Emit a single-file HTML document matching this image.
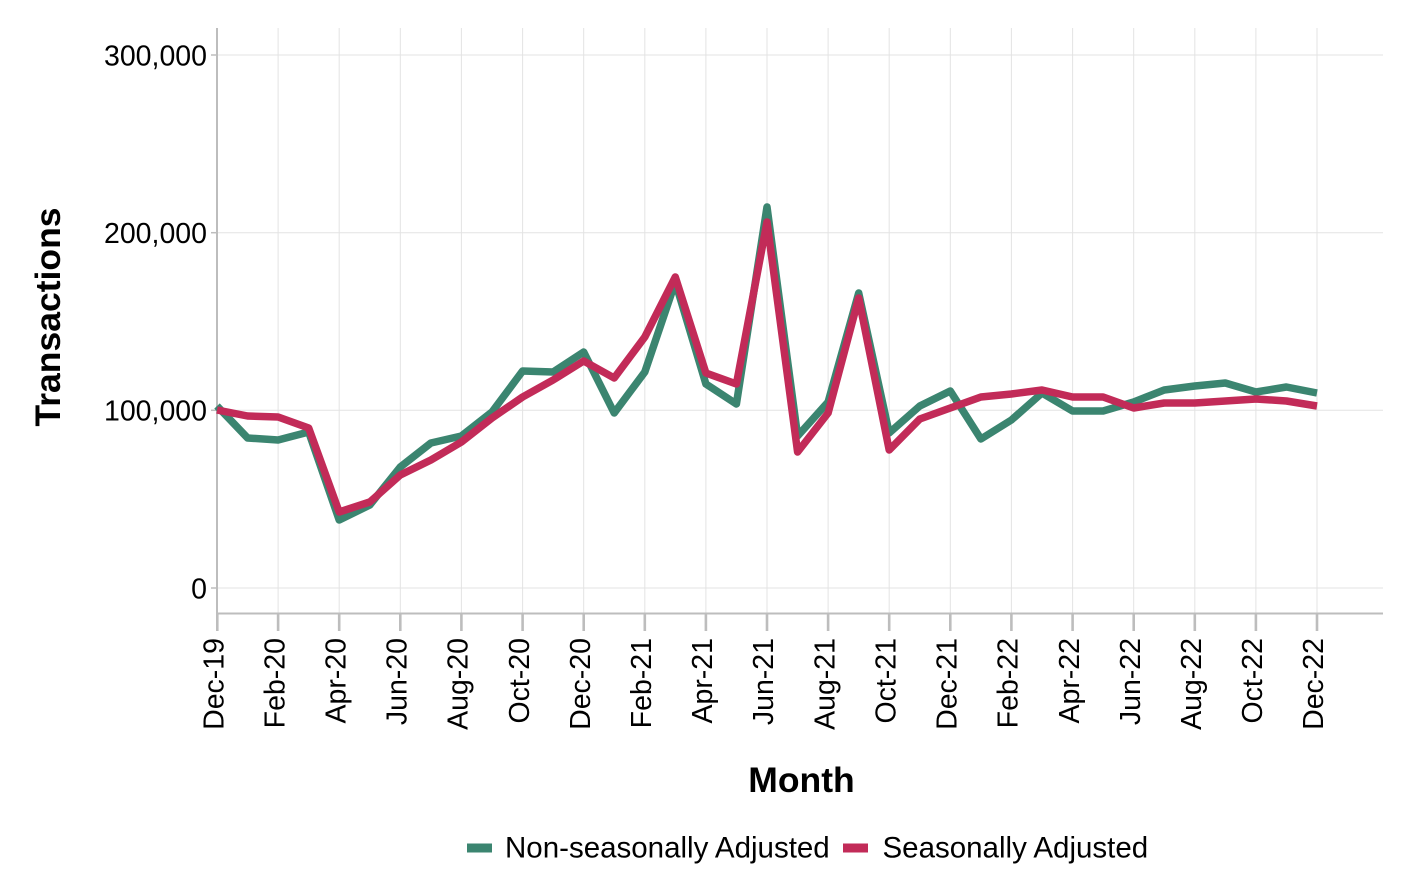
<!DOCTYPE html>
<html>
<head>
<meta charset="utf-8">
<style>
  html, body { margin:0; padding:0; background:#fff; }
  svg { display:block; }
  text { font-family: "Liberation Sans", Arial, sans-serif; fill:#000; }
</style>
</head>
<body>
<svg width="1412" height="892" viewBox="0 0 1412 892" xmlns="http://www.w3.org/2000/svg">
  <rect x="0" y="0" width="1412" height="892" fill="#fff"/>
  <!-- grid -->
  <g stroke="#e3e3e3" stroke-width="1">
    <line x1="217" y1="55" x2="1383" y2="55"/>
    <line x1="217" y1="232.7" x2="1383" y2="232.7"/>
    <line x1="217" y1="410.3" x2="1383" y2="410.3"/>
    <line x1="217" y1="588" x2="1383" y2="588"/>
    <line x1="278.1" y1="28" x2="278.1" y2="613"/>
    <line x1="339.2" y1="28" x2="339.2" y2="613"/>
    <line x1="400.3" y1="28" x2="400.3" y2="613"/>
    <line x1="461.4" y1="28" x2="461.4" y2="613"/>
    <line x1="522.6" y1="28" x2="522.6" y2="613"/>
    <line x1="583.7" y1="28" x2="583.7" y2="613"/>
    <line x1="644.8" y1="28" x2="644.8" y2="613"/>
    <line x1="705.9" y1="28" x2="705.9" y2="613"/>
    <line x1="767" y1="28" x2="767" y2="613"/>
    <line x1="828.1" y1="28" x2="828.1" y2="613"/>
    <line x1="889.2" y1="28" x2="889.2" y2="613"/>
    <line x1="950.3" y1="28" x2="950.3" y2="613"/>
    <line x1="1011.4" y1="28" x2="1011.4" y2="613"/>
    <line x1="1072.6" y1="28" x2="1072.6" y2="613"/>
    <line x1="1133.7" y1="28" x2="1133.7" y2="613"/>
    <line x1="1194.8" y1="28" x2="1194.8" y2="613"/>
    <line x1="1255.9" y1="28" x2="1255.9" y2="613"/>
    <line x1="1317" y1="28" x2="1317" y2="613"/>
  </g>
  <!-- axes -->
  <g stroke="#bdbdbd">
    <line x1="217" y1="28" x2="217" y2="614" stroke-width="2"/>
    <line x1="216" y1="613.5" x2="1383" y2="613.5" stroke-width="2"/>
    <g stroke-width="1.5">
      <line x1="211" y1="55" x2="217" y2="55"/>
      <line x1="211" y1="232.7" x2="217" y2="232.7"/>
      <line x1="211" y1="410.3" x2="217" y2="410.3"/>
      <line x1="211" y1="588" x2="217" y2="588"/>
    </g>
    <g stroke-width="2.6">
      <line x1="217.3" y1="613" x2="217.3" y2="631"/>
      <line x1="278.1" y1="613" x2="278.1" y2="631"/>
      <line x1="339.2" y1="613" x2="339.2" y2="631"/>
      <line x1="400.3" y1="613" x2="400.3" y2="631"/>
      <line x1="461.4" y1="613" x2="461.4" y2="631"/>
      <line x1="522.6" y1="613" x2="522.6" y2="631"/>
      <line x1="583.7" y1="613" x2="583.7" y2="631"/>
      <line x1="644.8" y1="613" x2="644.8" y2="631"/>
      <line x1="705.9" y1="613" x2="705.9" y2="631"/>
      <line x1="767" y1="613" x2="767" y2="631"/>
      <line x1="828.1" y1="613" x2="828.1" y2="631"/>
      <line x1="889.2" y1="613" x2="889.2" y2="631"/>
      <line x1="950.3" y1="613" x2="950.3" y2="631"/>
      <line x1="1011.4" y1="613" x2="1011.4" y2="631"/>
      <line x1="1072.6" y1="613" x2="1072.6" y2="631"/>
      <line x1="1133.7" y1="613" x2="1133.7" y2="631"/>
      <line x1="1194.8" y1="613" x2="1194.8" y2="631"/>
      <line x1="1255.9" y1="613" x2="1255.9" y2="631"/>
      <line x1="1317" y1="613" x2="1317" y2="631"/>
    </g>
  </g>
  <!-- y tick labels -->
  <g font-size="28.5" text-anchor="end">
    <text x="207" y="65.3">300,000</text>
    <text x="207" y="243">200,000</text>
    <text x="207" y="420.6">100,000</text>
    <text x="207" y="598.3">0</text>
  </g>
  <!-- x tick labels -->
  <g font-size="28.5" text-anchor="end">
    <text transform="translate(223.5,638) rotate(-90)">Dec-19</text>
    <text transform="translate(284.3,638) rotate(-90)">Feb-20</text>
    <text transform="translate(345.4,638) rotate(-90)">Apr-20</text>
    <text transform="translate(406.5,638) rotate(-90)">Jun-20</text>
    <text transform="translate(467.6,638) rotate(-90)">Aug-20</text>
    <text transform="translate(528.8,638) rotate(-90)">Oct-20</text>
    <text transform="translate(589.9,638) rotate(-90)">Dec-20</text>
    <text transform="translate(651,638) rotate(-90)">Feb-21</text>
    <text transform="translate(712.1,638) rotate(-90)">Apr-21</text>
    <text transform="translate(773.2,638) rotate(-90)">Jun-21</text>
    <text transform="translate(834.3,638) rotate(-90)">Aug-21</text>
    <text transform="translate(895.4,638) rotate(-90)">Oct-21</text>
    <text transform="translate(956.5,638) rotate(-90)">Dec-21</text>
    <text transform="translate(1017.6,638) rotate(-90)">Feb-22</text>
    <text transform="translate(1078.8,638) rotate(-90)">Apr-22</text>
    <text transform="translate(1139.9,638) rotate(-90)">Jun-22</text>
    <text transform="translate(1201,638) rotate(-90)">Aug-22</text>
    <text transform="translate(1262.1,638) rotate(-90)">Oct-22</text>
    <text transform="translate(1323.2,638) rotate(-90)">Dec-22</text>
  </g>
  <!-- axis titles -->
  <text x="801.5" y="792" font-size="35.5" font-weight="bold" text-anchor="middle">Month</text>
  <text transform="translate(60,317) rotate(-90)" font-size="35.5" font-weight="bold" text-anchor="middle">Transactions</text>
  <!-- series -->
  <polyline fill="none" stroke="#3b8570" stroke-width="7.5" stroke-linejoin="round" stroke-linecap="butt"
    points="217,406 247.6,438 278.1,440 308.7,432 339.2,520 369.8,505 400.3,467 430.9,443 461.4,436 492,412 522.6,371 553.1,372 583.7,352 614.2,413 644.8,372 675.3,282 705.9,384 736.4,404 767,207 797.6,436 828.1,402 858.7,293 889.2,433 919.8,406 950.3,391 980.9,439 1011.4,420 1042,393 1072.6,411 1103.1,411 1133.7,402 1164.2,390 1194.8,386 1225.3,383 1255.9,392 1286.4,387 1317,393"/>
  <polyline fill="none" stroke="#c22b58" stroke-width="7.5" stroke-linejoin="round" stroke-linecap="butt"
    points="217,410 247.6,416 278.1,417 308.7,428 339.2,512 369.8,502 400.3,475 430.9,460 461.4,442 492,418 522.6,397 553.1,380 583.7,361 614.2,378 644.8,337 675.3,277 705.9,373 736.4,384 767,222 797.6,452 828.1,413 858.7,298 889.2,450 919.8,419 950.3,408 980.9,397 1011.4,394 1042,390 1072.6,397 1103.1,397 1133.7,408 1164.2,403 1194.8,403 1225.3,401 1255.9,399 1286.4,401 1317,406"/>
  <!-- legend -->
  <rect x="467" y="843.5" width="25" height="9" fill="#3b8570"/>
  <text x="505" y="857.5" font-size="29.5">Non-seasonally Adjusted</text>
  <rect x="843" y="843.5" width="25" height="9" fill="#c22b58"/>
  <text x="882.5" y="857.5" font-size="29.5">Seasonally Adjusted</text>
</svg>
</body>
</html>
